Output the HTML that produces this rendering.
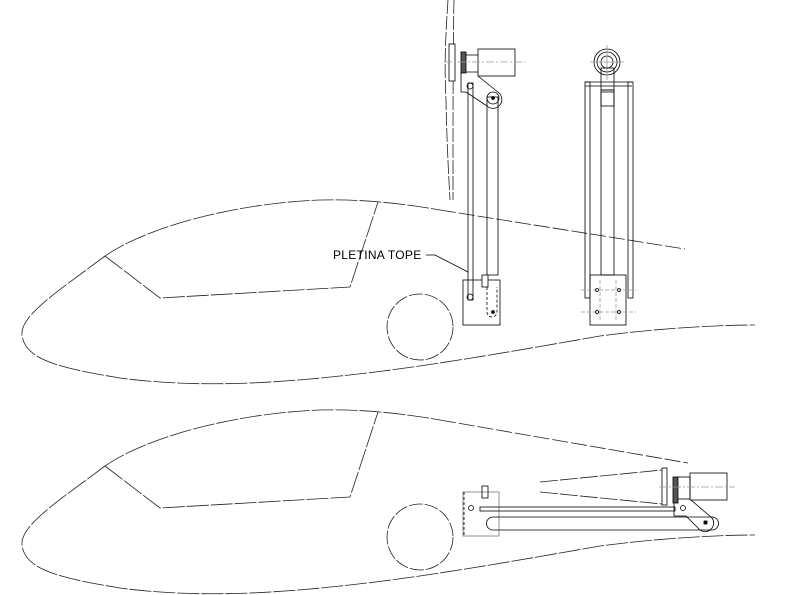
<!DOCTYPE html>
<html><head><style>html,body{margin:0;padding:0;background:#fff;}svg{display:block}</style></head><body>
<svg width="800" height="595" viewBox="0 0 800 595" xmlns="http://www.w3.org/2000/svg" fill="none" stroke="#222" stroke-width="0.8">
<defs>
<g id="fus">
 <path d="M105,256 C60,290 20,315 22,335 C25,360 60,368 120,378 C180,386 250,386 340,376 C420,368 520,350 600,336 C660,328 720,325 755,325" stroke-dasharray="22 2"/>
 <path d="M105,256 C150,225 240,203 320,200 C360,199 400,203 440,210" stroke-dasharray="22 2"/>
 <path d="M105,256 L160,298 L350,287 L378,202" stroke-dasharray="22 2"/>
 <circle cx="420" cy="327" r="33" stroke-dasharray="14 2"/>
</g>
</defs>
<use href="#fus"/>
<path d="M440,210 L685,249" stroke-dasharray="16 3"/>
<use href="#fus" transform="translate(0,210)"/>
<!-- lower tail -->
<path d="M440,420 L688,463" stroke-dasharray="16 3"/>
<path d="M540,482 L662,470" stroke-dasharray="18 2"/>
<path d="M540,492 L662,504" stroke-dasharray="18 2"/>
<!-- prop vertical -->
<path d="M448,0 C446,30 444,60 446,100 C447,150 449,180 450,200" stroke-dasharray="14 2"/>
<path d="M454,0 C453,40 453,120 453,200" stroke-dasharray="14 2"/>
<!-- upper side mechanism -->
<g stroke="#000">
<rect x="478" y="49" width="37" height="27"/>
<rect x="461" y="52" width="5" height="21" fill="#555"/>
<rect x="449" y="44" width="6" height="37" fill="#fff"/>
<path d="M444,62 H525" stroke="#999" stroke-dasharray="8 2 2 2"/>
<path d="M466,55 H478 M466,72 H478 M461,73 V92 H466 L487,106 A7,7 0 0 0 499,93 L478,76"/>
<rect x="468" y="83" width="5" height="217"/>
<circle cx="470" cy="86" r="3"/>
<rect x="487" y="97" width="11" height="178"/>
<circle cx="493" cy="98" r="6"/>
<circle cx="493" cy="98" r="1.5" fill="#000"/>
<rect x="463" y="280" width="37" height="45"/>
<rect x="482" y="275" width="6" height="12" fill="#fff"/>
<circle cx="470" cy="297" r="3"/>
<path d="M487,287 V312 A5,5 0 0 0 497,312 V287" stroke-dasharray="3 2"/>
<circle cx="493" cy="312" r="1.5" fill="#000"/>
</g>
<!-- label -->
<text x="333" y="259" font-family="Liberation Sans, sans-serif" font-size="12" fill="#000" stroke="none" letter-spacing="0.3">PLETINA TOPE</text>
<path d="M426,255 H435 L468,272" stroke="#000"/>
<!-- front view -->
<g stroke="#000">
<circle cx="607" cy="62" r="13"/>
<circle cx="607" cy="62" r="10"/>
<circle cx="607" cy="62" r="6"/>
<path d="M607,45 V80 M590,62 H624" stroke="#999"/>
<rect x="601" y="68" width="13" height="22"/>
<path d="M585,82 H632 M585,86 H632"/>
<rect x="585" y="82" width="5" height="216"/>
<rect x="628" y="82" width="5" height="216"/>
<rect x="601" y="90" width="13" height="185"/>
<rect x="601" y="92" width="13" height="14"/>
<rect x="590" y="275" width="36" height="50"/>
<path d="M581,290 H636 M581,312 H636 M600,280 V322 M616,280 V322" stroke="#999" stroke-dasharray="4 2"/>
<circle cx="597" cy="290" r="1.5"/><circle cx="619" cy="290" r="1.5"/>
<circle cx="597" cy="312" r="1.5"/><circle cx="619" cy="312" r="1.5"/>
</g>
<!-- lower mechanism -->
<g stroke="#000">
<rect x="463" y="492" width="36" height="44" stroke="#777"/>
<path d="M464,492 V536" stroke-dasharray="3 2"/>
<rect x="482" y="486" width="6" height="12"/>
<circle cx="471" cy="508" r="2.5"/>
<rect x="480" y="507" width="195" height="4"/>
<path d="M493,517 H712 A6.5,6.5 0 0 1 712,530 H493 A6.5,6.5 0 0 1 493,517 Z"/>
<rect x="690" y="473" width="37" height="27"/>
<rect x="677" y="477" width="13" height="22"/>
<rect x="673" y="477" width="5" height="26" fill="#555"/>
<rect x="662" y="468" width="5" height="37" fill="#fff"/>
<path d="M659,487 H735" stroke="#999" stroke-dasharray="8 2 2 2"/>
<path d="M674,503 V516 H686 L698,528 A7,7 0 0 0 712,518 L691,500"/>
<circle cx="683" cy="508" r="2.5"/>
<rect x="704" y="521" width="3" height="3" fill="#000"/>
</g>
</svg>
</body></html>
